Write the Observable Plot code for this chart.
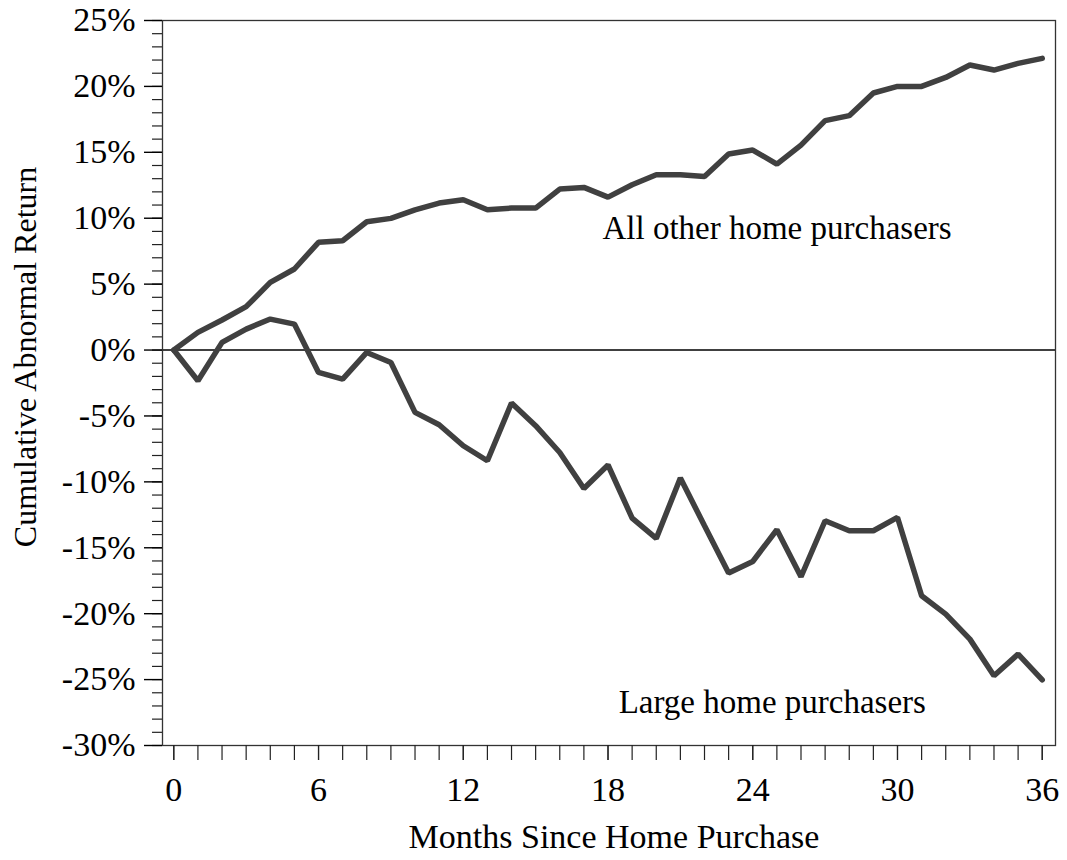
<!DOCTYPE html>
<html>
<head>
<meta charset="utf-8">
<script src="https://cdn.jsdelivr.net/npm/d3@7"></script>
<script src="https://cdn.jsdelivr.net/npm/@observablehq/plot@0.6"></script>
<style>
  html, body { margin: 0; padding: 0; background: #fff; }
</style>
</head>
<body>
<div id="chart"></div>
<script>
const months = [0,1,2,3,4,5,6,7,8,9,10,11,12,13,14,15,16,17,18,19,20,21,22,23,24,25,26,27,28,29,30,31,32,33,34,35,36];
const otherPurchasers = [0, 1.34, 2.28, 3.29, 5.13, 6.15, 8.17, 8.29, 9.73, 9.99, 10.64, 11.15, 11.40, 10.64, 10.77, 10.77, 12.21, 12.34, 11.60, 12.54, 13.30, 13.30, 13.17, 14.87, 15.17, 14.11, 15.55, 17.40, 17.78, 19.50, 20.00, 20.00, 20.68, 21.62, 21.24, 21.75, 22.13];
const largePurchasers = [0, -2.33, 0.58, 1.59, 2.35, 1.97, -1.70, -2.20, -0.18, -0.94, -4.73, -5.67, -7.26, -8.40, -4.02, -5.74, -7.77, -10.50, -8.72, -12.75, -14.29, -9.71, -13.33, -16.92, -16.04, -13.63, -17.20, -12.95, -13.71, -13.71, -12.70, -18.64, -20.03, -21.93, -24.71, -23.07, -25.02];
const xLabelTicks = [0, 6, 12, 18, 24, 30, 36];
const yMajorTicks = [-30, -25, -20, -15, -10, -5, 0, 5, 10, 15, 20, 25];
const yMinorTicks = [-30,-29,-28,-27,-26,-25,-24,-23,-22,-21,-20,-19,-18,-17,-16,-15,-14,-13,-12,-11,-10,-9,-8,-7,-6,-5,-4,-3,-2,-1,0,1,2,3,4,5,6,7,8,9,10,11,12,13,14,15,16,17,18,19,20,21,22,23,24,25];
const seriesLabels = [
  {name: "All other home purchasers", month: 17.77, value: 8.44},
  {name: "Large home purchasers", month: 18.44, value: -27.52}
];
const xTitle = "Months Since Home Purchase";
const yTitle = "Cumulative Abnormal Return";

const otherData = months.map((m, i) => ({month: m, value: otherPurchasers[i]}));
const largeData = months.map((m, i) => ({month: m, value: largePurchasers[i]}));

const ink = "#404040";
const chart = Plot.plot({
  width: 1067,
  height: 860,
  marginLeft: 162,
  marginRight: 12,
  marginTop: 20,
  marginBottom: 115,
  style: {fontFamily: "'Liberation Serif', 'Times New Roman', serif", fontSize: "34px", background: "#fff", color: "#000"},
  x: {domain: [-0.468, 36.55]},
  y: {domain: [-30, 25]},
  marks: [
    Plot.ruleY([0], {stroke: "#000", strokeWidth: 1.5}),
    Plot.line(otherData, {x: "month", y: "value", stroke: ink, strokeWidth: 5.5, strokeLinejoin: "miter"}),
    Plot.line(largeData, {x: "month", y: "value", stroke: ink, strokeWidth: 5.5, strokeLinejoin: "miter"}),
    Plot.frame({stroke: "#333", strokeWidth: 1.3}),
    Plot.axisY(yMinorTicks, {tickSize: 10, tickFormat: () => "", label: null, stroke: "#222", strokeWidth: 1.2}),
    Plot.axisY(yMajorTicks, {tickSize: 18, tickPadding: 9, tickFormat: d => d + "%", label: null, stroke: "#000", strokeWidth: 1.4, fill: "#000"}),
    Plot.axisX(months, {tickSize: 15, tickFormat: () => "", label: null, stroke: "#222", strokeWidth: 1.2}),
    Plot.axisX(xLabelTicks, {tickSize: 15, tickPadding: 16, tickFormat: d => String(d), label: null, stroke: "#222", strokeWidth: 1.2, fill: "#000"}),
    Plot.text(seriesLabels, {x: "month", y: "value", text: "name", textAnchor: "start", lineAnchor: "bottom", fill: "#000", fontSize: 33}),
    Plot.text([xTitle], {frameAnchor: "bottom", textAnchor: "middle", dx: 5, dy: 102, lineAnchor: "bottom", fill: "#000", fontSize: 34}),
    Plot.text([yTitle], {frameAnchor: "left", textAnchor: "middle", rotate: -90, dx: -137, dy: -26, lineAnchor: "middle", fill: "#000", fontSize: 32})
  ]
});
document.getElementById("chart").appendChild(chart);
</script>
</body>
</html>
